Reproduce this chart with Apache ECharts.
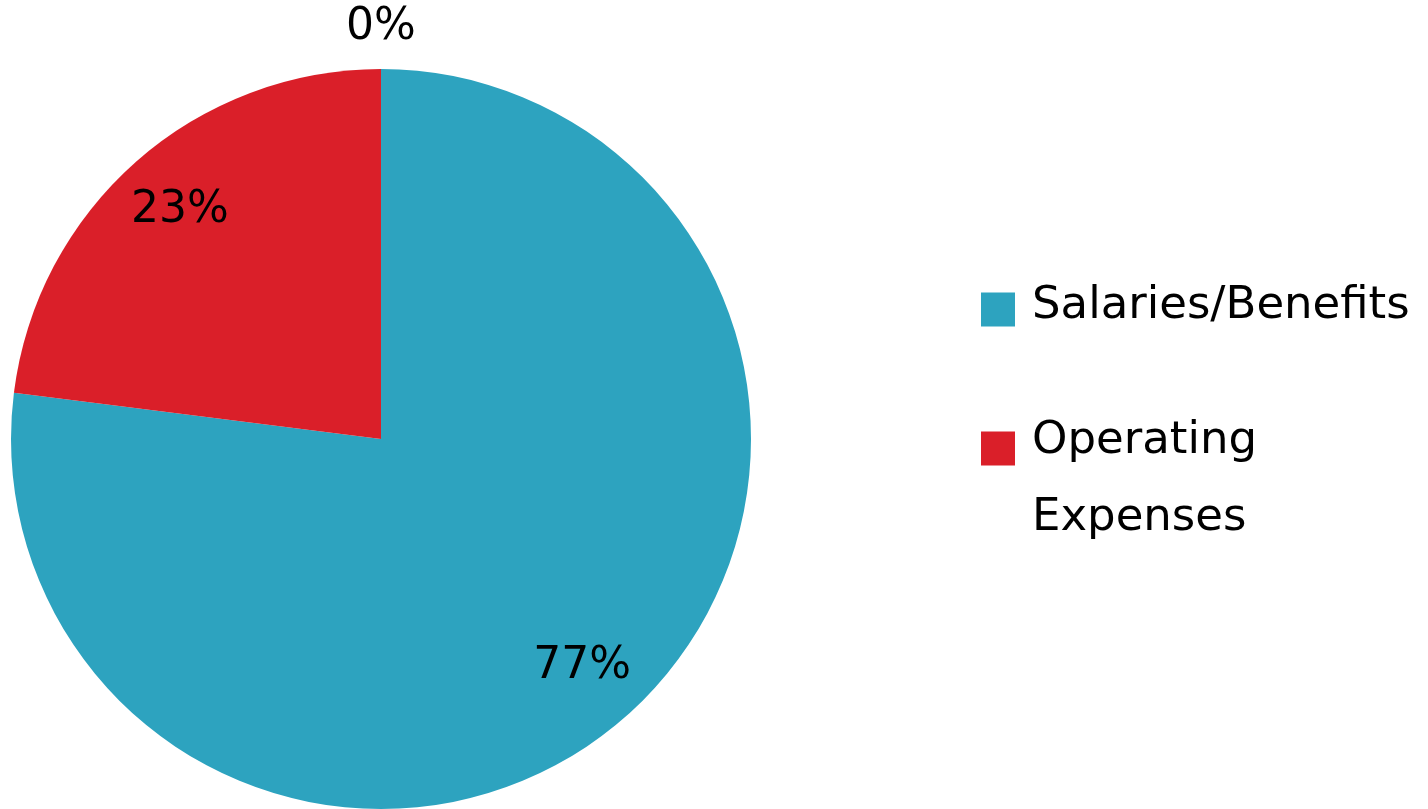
<!DOCTYPE html>
<html>
<head>
<meta charset="utf-8">
<script src="https://cdn.jsdelivr.net/npm/echarts@6/dist/echarts.min.js"></script>
<style>
  html, body { margin: 0; padding: 0; background: #ffffff; }
  #chart { width: 1428px; height: 809px; }
</style>
</head>
<body>
<div id="chart"></div>
<script>
// Data
const categories = ['Salaries/Benefits', 'Operating Expenses', 'Other'];
const values = [77, 23, 0];
const colors = ['#2DA3BF', '#DA1F29', '#888888'];
const legendNames = ['Salaries/Benefits', 'Operating Expenses'];

const FONT = '"DejaVu Sans", sans-serif';

function items(labelFilter) {
  return categories.map((name, i) => ({
    name: name,
    value: values[i],
    itemStyle: { color: colors[i] },
    label: { show: labelFilter(i) }
  }));
}
function ghostItems(labelFilter) {
  return categories.map((name, i) => ({
    name: name,
    value: values[i],
    itemStyle: { color: 'rgba(0,0,0,0)' },
    label: { show: labelFilter(i) }
  }));
}

const center = [381, 439];
const richT = { t: { fontFamily: FONT, fontSize: 45, color: '#000', lineHeight: 77 } };

const chart = echarts.init(document.getElementById('chart'), null, { renderer: 'canvas' });
chart.setOption({
  backgroundColor: '#ffffff',
  animation: false,
  legend: [
    {
      data: [legendNames[0]],
      orient: 'vertical',
      left: 981,
      top: 268,
      padding: 0,
      itemWidth: 34,
      itemHeight: 34,
      icon: 'rect',
      selectedMode: false,
      formatter: '{t|{name}}',
      textStyle: {
        fontFamily: FONT, fontSize: 45, color: '#000',
        lineHeight: 77, padding: [0, 0, 6, 12],
        rich: richT
      }
    },
    {
      data: [legendNames[1]],
      orient: 'vertical',
      left: 981,
      top: 340,
      padding: 0,
      itemWidth: 34,
      itemHeight: 34,
      icon: 'rect',
      selectedMode: false,
      formatter: name => name.split(' ').map(w => '{t|' + w + '}').join('\n'),
      textStyle: {
        fontFamily: FONT, fontSize: 45, color: '#000',
        lineHeight: 77, padding: [63, 0, 0, 12],
        rich: richT
      }
    }
  ],
  series: [
    {
      type: 'pie',
      center: center,
      radius: 370,
      startAngle: 90,
      clockwise: true,
      avoidLabelOverlap: false,
      label: { show: false },
      labelLine: { show: false },
      itemStyle: { borderWidth: 0 },
      emphasis: { disabled: true },
      data: items(() => false)
    },
    {
      // inner labels (percentages inside slices)
      type: 'pie',
      center: center,
      radius: [232, 370],
      startAngle: 90,
      clockwise: true,
      silent: true,
      avoidLabelOverlap: false,
      labelLine: { show: false },
      label: {
        position: 'inside',
        formatter: '{d}%',
        fontFamily: FONT, fontSize: 44, color: '#000'
      },
      emphasis: { disabled: true },
      data: ghostItems(i => values[i] > 0)
    },
    {
      // outer label for zero slice
      type: 'pie',
      center: center,
      radius: [370, 446],
      startAngle: 90,
      clockwise: true,
      silent: true,
      avoidLabelOverlap: false,
      labelLine: { show: false },
      label: {
        position: 'inside',
        formatter: '{d}%',
        fontFamily: FONT, fontSize: 44, color: '#000'
      },
      emphasis: { disabled: true },
      data: ghostItems(i => values[i] === 0)
    }
  ]
});
</script>
</body>
</html>
